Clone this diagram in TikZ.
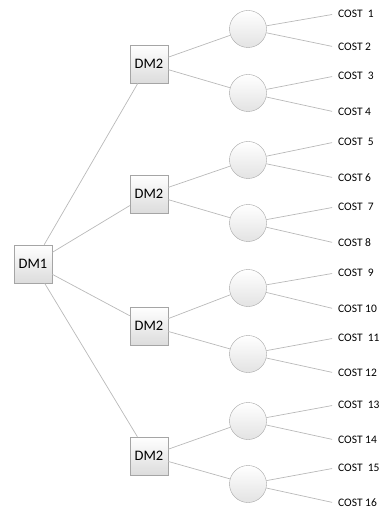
\documentclass[tikz,border=0pt]{standalone}
\usepackage{fontspec}
\setmainfont{Carlito}
\usetikzlibrary{positioning}

\definecolor{linegray}{RGB}{185,185,185}
\definecolor{edgegray}{RGB}{165,165,165}
\definecolor{fillgray}{RGB}{220,220,220}

\begin{document}
\begin{tikzpicture}[x=1pt,y=-1pt,on grid,
   dm/.style={rectangle,draw=edgegray,minimum size=38pt,inner sep=0pt,top color=white,bottom color=fillgray,font=\fontsize{14.5}{16}\selectfont},
   chance/.style={circle,draw=edgegray,minimum size=37pt,inner sep=0pt,top color=white,bottom color=fillgray!80},
   cost/.style={anchor=west,inner sep=3pt,font=\fontsize{11.5}{13}\selectfont},
   branch/.style={color=linegray,line width=0.7pt}]
   \useasboundingbox (0,0) rectangle (379,510);
   \node[dm] (dm1) at (33,264) {DM1};
   \node[dm] (d1) [above right=200pt and 116pt of dm1] {DM2};
   \node[dm] (d2) [above right=70pt and 116pt of dm1] {DM2};
   \node[dm] (d3) [below right=62pt and 116pt of dm1] {DM2};
   \node[dm] (d4) [below right=192pt and 116pt of dm1] {DM2};
   \node[chance] (c1) [above right=35pt and 99pt of d1] {};
   \node[chance] (c2) [below right=29pt and 99pt of d1] {};
   \node[chance] (c3) [above right=34pt and 99pt of d2] {};
   \node[chance] (c4) [below right=29pt and 99pt of d2] {};
   \node[chance] (c5) [above right=38pt and 99pt of d3] {};
   \node[chance] (c6) [below right=28pt and 99pt of d3] {};
   \node[chance] (c7) [above right=35pt and 99pt of d4] {};
   \node[chance] (c8) [below right=28pt and 99pt of d4] {};
   % leaves
   \node[cost] (k1) at (335,14) {COST\ \ 1};
   \node[cost] (k2) at (335,47) {COST 2};
   \node[cost] (k3) at (335,76) {COST\ \ 3};
   \node[cost] (k4) at (335,112) {COST 4};
   \node[cost] (k5) at (335,142) {COST\ \ 5};
   \node[cost] (k6) at (335,178) {COST 6};
   \node[cost] (k7) at (335,207) {COST\ \ 7};
   \node[cost] (k8) at (335,243) {COST 8};
   \node[cost] (k9) at (335,273) {COST\ \ 9};
   \node[cost] (k10) at (335,309) {COST 10};
   \node[cost] (k11) at (335,338) {COST\ \ 11};
   \node[cost] (k12) at (335,373) {COST 12};
   \node[cost] (k13) at (335,405) {COST\ \ 13};
   \node[cost] (k14) at (335,440) {COST 14};
   \node[cost] (k15) at (335,468) {COST\ \ 15};
   \node[cost] (k16) at (335,503) {COST 16};
   \path[branch]
(dm1) edge (d1) edge (d2) edge (d3) edge (d4)
(d1) edge (c1) edge (c2)
(d2) edge (c3) edge (c4)
(d3) edge (c5) edge (c6)
(d4) edge (c7) edge (c8);
   \path[branch,shorten >=3pt]
(c1) edge (k1.west) edge (k2.west)
(c2) edge (k3.west) edge (k4.west)
(c3) edge (k5.west) edge (k6.west)
(c4) edge (k7.west) edge (k8.west)
(c5) edge (k9.west) edge (k10.west)
(c6) edge (k11.west) edge (k12.west)
(c7) edge (k13.west) edge (k14.west)
(c8) edge (k15.west) edge (k16.west);
\end{tikzpicture}
\end{document}
